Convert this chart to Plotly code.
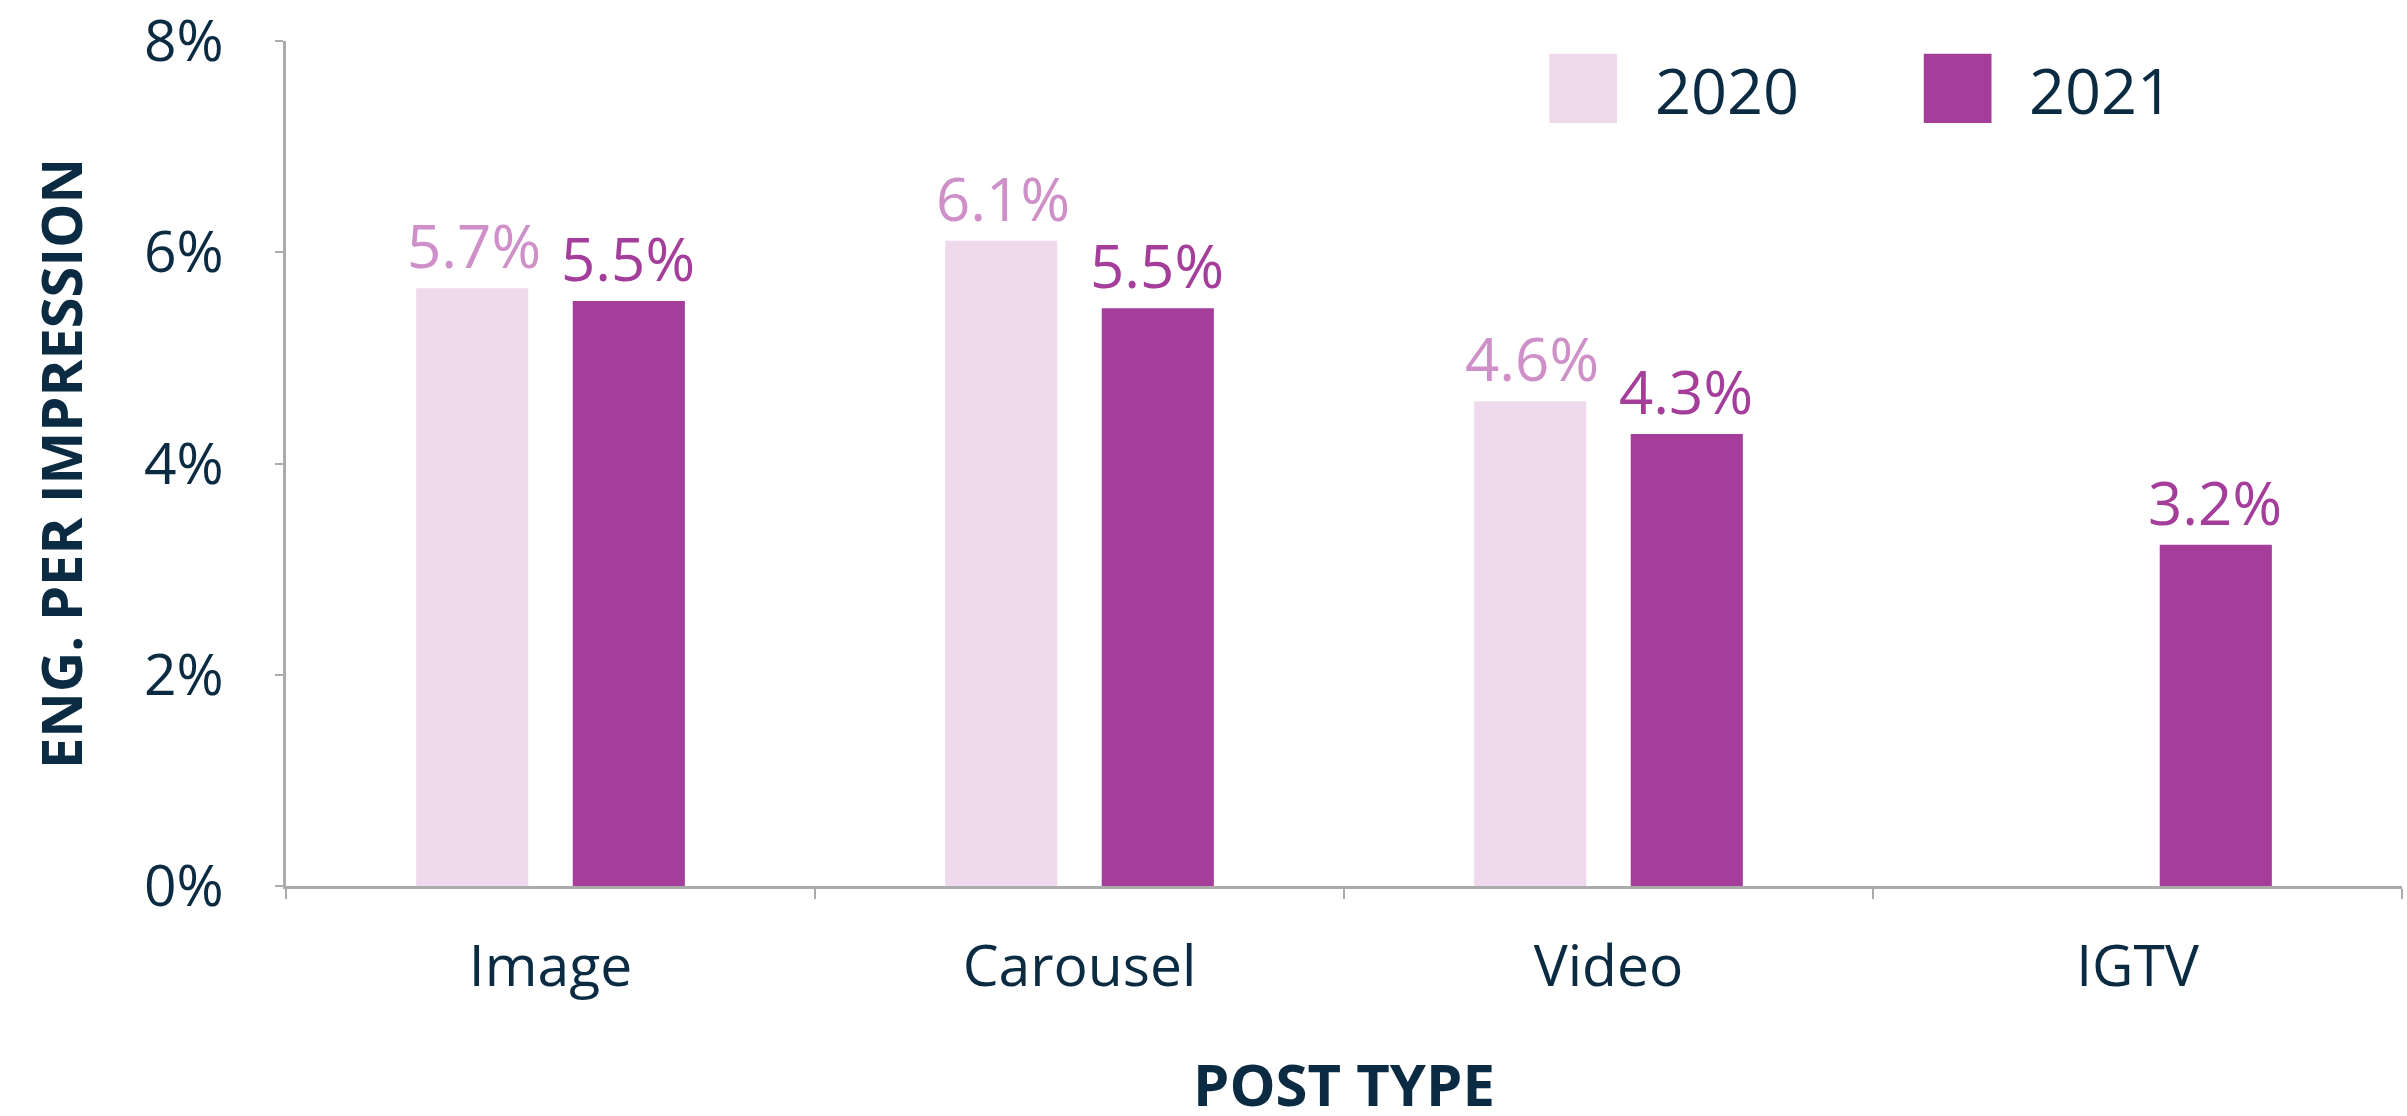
import plotly.graph_objects as go

categories = ["Image", "Carousel", "Video", "IGTV"]
years = ["2020", "2021"]
values_2020 = [0.0566, 0.0611, 0.0459, None]
values_2021 = [0.0554, 0.0547, 0.0428, 0.0323]
y_ticks = [0, 0.02, 0.04, 0.06, 0.08]
y_tick_labels = ["0%", "2%", "4%", "6%", "8%"]

bar_colors = ["#efdaed", "#a53d9b"]
label_colors = ["#cf8fc8", "#a53d9b"]
navy = "#0b2b42"
axis_gray = "#ababab"
FONT = "Open Sans"

fig = go.Figure()
series = [values_2020, values_2021]
label_xshift = [-77, 77]
for name, vals, col, lcol, dx in zip(years, series, bar_colors, label_colors, label_xshift):
    fig.add_trace(go.Bar(
        x=categories, y=vals, name=name,
        marker=dict(color=col, line=dict(width=0)),
        showlegend=False,
    ))
    for cat, v in zip(categories, vals):
        if v is None:
            continue
        fig.add_annotation(
            x=cat, y=v, xref="x", yref="y", text=f"{v:.1%}", showarrow=False,
            xanchor="center", yanchor="bottom", xshift=dx, yshift=0,
            font=dict(family=FONT, size=60, color=lcol),
        )

# legend drawn as swatches + labels
legend_x = [0.597, 0.774]
for i, (name, col) in enumerate(zip(years, bar_colors)):
    x0 = legend_x[i]
    fig.add_shape(type="rect", xref="paper", yref="paper",
                  x0=x0, x1=x0 + 0.032, y0=0.903, y1=0.985,
                  fillcolor=col, line=dict(width=0))
    fig.add_annotation(xref="paper", yref="paper", x=x0 + 0.049, y=0.943,
                       text=name, showarrow=False, xanchor="left", yanchor="middle",
                       font=dict(family=FONT, size=63, color=navy))

# x-axis title placed as annotation (sits low, near the bottom edge)
fig.add_annotation(xref="paper", yref="paper", x=0.5, y=-0.234,
                   text="<b>POST TYPE</b>", showarrow=False,
                   xanchor="center", yanchor="middle",
                   font=dict(family=FONT, size=58, color=navy))

fig.update_layout(
    width=2407, height=1116,
    margin=dict(l=286, r=5, t=41, b=230),
    paper_bgcolor="white", plot_bgcolor="white",
    barmode="group", bargap=0.408, bargroupgap=0.284,
    font=dict(family=FONT, color=navy),
    xaxis=dict(
        automargin=False,
        showline=True, linecolor=axis_gray, linewidth=3,
        ticks="outside", tickson="boundaries", ticklen=10, tickcolor=axis_gray, tickwidth=2,
        tickfont=dict(family=FONT, size=57, color=navy),
        ticklabelstandoff=29,
        showgrid=False,
    ),
    yaxis=dict(
        automargin=False,
        range=[0, 0.08001], tickvals=y_ticks, ticktext=y_tick_labels,
        ticklabeloverflow="allow",
        showline=True, linecolor=axis_gray, linewidth=3,
        ticks="outside", ticklen=8, tickcolor=axis_gray, tickwidth=2,
        tickfont=dict(family=FONT, size=57, color=navy),
        ticklabelstandoff=40,
        title=dict(text="<b>ENG. PER IMPRESSION</b>", font=dict(family=FONT, size=56, color=navy), standoff=44),
        showgrid=False, zeroline=False,
    ),
)

fig.write_html("out.html", config={"displayModeBar": False},
               post_script="document.body.style.margin='0px';")
